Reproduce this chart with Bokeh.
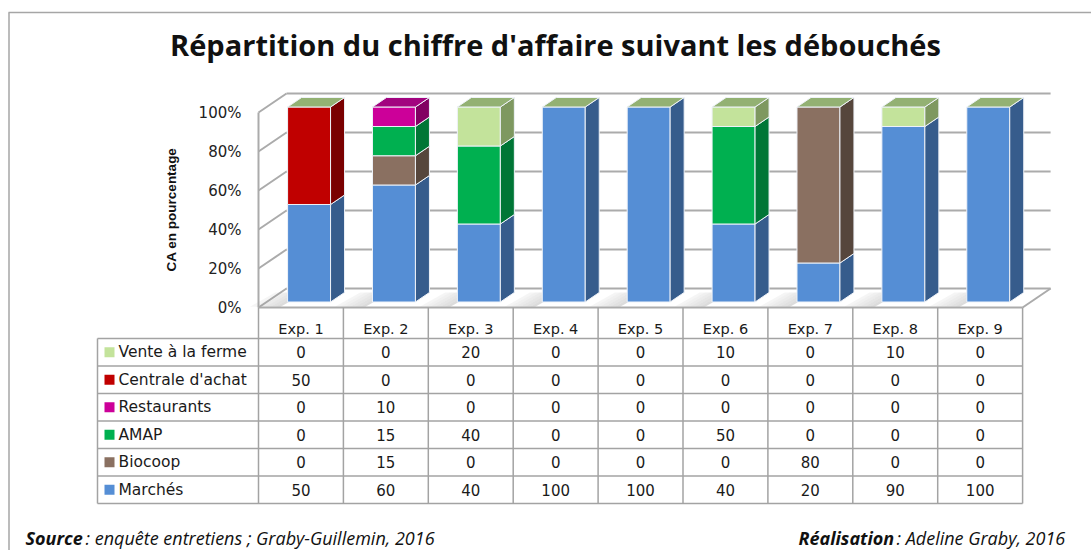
import numpy as np
from bokeh.plotting import figure
from bokeh.models import Range1d
from bokeh.core.properties import value
from bokeh.embed import file_html
from bokeh.resources import INLINE

# ---------------- data ----------------
title_text = "Répartition du chiffre d'affaire suivant les débouchés"
y_title = "CA en pourcentage"
categories = ["Exp. 1", "Exp. 2", "Exp. 3", "Exp. 4", "Exp. 5", "Exp. 6", "Exp. 7", "Exp. 8", "Exp. 9"]

# table order (top to bottom)
series_names = ["Vente à la ferme", "Centrale d'achat", "Restaurants", "AMAP", "Biocoop", "Marchés"]
vente = [0, 0, 20, 0, 0, 10, 0, 10, 0]
centrale = [50, 0, 0, 0, 0, 0, 0, 0, 0]
restaurants = [0, 10, 0, 0, 0, 0, 0, 0, 0]
amap = [0, 15, 40, 0, 0, 50, 0, 0, 0]
biocoop = [0, 15, 0, 0, 0, 0, 80, 0, 0]
marches = [50, 60, 40, 100, 100, 40, 20, 90, 100]

pct_ticks = [0, 20, 40, 60, 80, 100]
pct_labels = ["0%", "20%", "40%", "60%", "80%", "100%"]

# series whose top face is visible on each bar (as seen in the picture)
top_face_series = ["Vente à la ferme", "Restaurants", "Vente à la ferme", "Vente à la ferme",
                   "Vente à la ferme", "Vente à la ferme", "Vente à la ferme", "Vente à la ferme",
                   "Vente à la ferme"]

source_label = "Source"
source_text = " : enquête entretiens ; Graby-Guillemin, 2016"
credit_label = "Réalisation"
credit_text = " : Adeline Graby, 2016"

# ---------------- styles ----------------
values = {
    "Vente à la ferme": vente,
    "Centrale d'achat": centrale,
    "Restaurants": restaurants,
    "AMAP": amap,
    "Biocoop": biocoop,
    "Marchés": marches,
}
stack_order = ["Marchés", "Biocoop", "AMAP", "Restaurants", "Centrale d'achat", "Vente à la ferme"]
front_col = {
    "Marchés": "#558ED5", "Biocoop": "#8A7061", "AMAP": "#00B050",
    "Restaurants": "#CC0099", "Centrale d'achat": "#C00000", "Vente à la ferme": "#C3E39B",
}
side_col = {
    "Marchés": "#365C8C", "Biocoop": "#56463C", "AMAP": "#007636",
    "Restaurants": "#820062", "Centrale d'achat": "#7A0000", "Vente à la ferme": "#7E9860",
}
top_col = {
    "Marchés": "#4A7AB8", "Biocoop": "#6E5A4E", "AMAP": "#009040",
    "Restaurants": "#A2047F", "Centrale d'achat": "#9A0000", "Vente à la ferme": "#93B173",
}

# ---------------- geometry (screen px -> data units) ----------------
W, H = 1091, 550
COL_PX = 84.9      # width of one category column
X0_PX = 258        # left edge of the first category column
PCT_PX = 1.95      # pixels per percent on the front plane
Y0_PX = 307        # 0% on the front plane


def sx(px):
    return (px - X0_PX) / COL_PX


def sy(py):
    return (Y0_PX - py) / PCT_PX


DX = 28 / COL_PX
DY = 19 / PCT_PX


def proj(x, y, d):
    return x + d * DX, y + d * DY


def poly(pts):
    xs, ys = zip(*[proj(*pt) for pt in pts])
    return list(xs), list(ys)


n = len(categories)

p = figure(width=W, height=H,
           x_range=Range1d(sx(0), sx(W)),
           y_range=Range1d(sy(H), sy(0)),
           output_backend="svg", toolbar_location=None,
           x_axis_location=None, y_axis_location=None,
           min_border=0)
p.grid.visible = False
p.outline_line_color = None
p.background_fill_color = "white"
p.border_fill_color = "white"

GRID = "#ABABAB"

# outer frame
p.line([sx(8), sx(W)], [sy(12), sy(12)], line_color="#A6A6A6", line_width=1.5)
p.line([sx(8.5), sx(8.5)], [sy(12), sy(H)], line_color="#A6A6A6", line_width=1.5)

# title
p.text(x=[sx(555)], y=[sy(44)], text=[title_text], text_align="center", text_baseline="middle",
       text_font=value("Open Sans"), text_font_style="bold", text_font_size="29px", text_color="#111111")

# floor
fx, fy = poly([(0, 0, 0), (n, 0, 0), (n, 0, 1), (0, 0, 1)])
p.patch(fx, fy, fill_color="white", line_color=None)

# back wall gridlines and left wall diagonals
for t in pct_ticks:
    bx, by = poly([(0, t, 1), (n, t, 1)])
    p.line(bx, by, line_color=GRID, line_width=2)
    lx, ly = poly([(0, t, 0), (0, t, 1)])
    p.line(lx, ly, line_color=GRID, line_width=2)
vx, vy = poly([(0, 0, 0), (0, 100, 0)])
p.line(vx, vy, line_color=GRID, line_width=2)
rx, ry = poly([(n, 0, 0), (n, 0, 1)])
p.line(rx, ry, line_color=GRID, line_width=2)

# bars
D0, D1 = 0.29, 0.79
BW = 0.506
shadow_xs, shadow_ys, shadow_alpha = [], [], []
face_xs, face_ys, face_cols = [], [], []
for i in range(n):
    xl = i + 0.5 - BW / 2
    xr = i + 0.5 + BW / 2
    # soft floor shadow left of bar
    steps = 6
    for k in range(steps):
        a0 = xl - 0.36 + 0.36 * k / steps
        a1 = xl - 0.36 + 0.36 * (k + 1) / steps
        sxs, sys_ = poly([(a0, 0, 0.04), (a1, 0, 0.04), (a1 + 0.05, 0, D1), (a0 + 0.05, 0, D1)])
        shadow_xs.append(sxs)
        shadow_ys.append(sys_)
        shadow_alpha.append(0.05 + 0.30 * (k + 1) / steps)
    base = 0
    for s in stack_order:
        v = values[s][i]
        if v <= 0:
            continue
        top = base + v
        fx_, fy_ = poly([(xl, base, D0), (xr, base, D0), (xr, top, D0), (xl, top, D0)])
        face_xs.append(fx_); face_ys.append(fy_); face_cols.append(front_col[s])
        sx_, sy_ = poly([(xr, base, D0), (xr, base, D1), (xr, top, D1), (xr, top, D0)])
        face_xs.append(sx_); face_ys.append(sy_); face_cols.append(side_col[s])
        base = top
    tx_, ty_ = poly([(xl, base, D0), (xr, base, D0), (xr, base, D1), (xl, base, D1)])
    face_xs.append(tx_); face_ys.append(ty_); face_cols.append(top_col[top_face_series[i]])

p.patches(shadow_xs, shadow_ys, fill_color="#9A9A9A", fill_alpha=shadow_alpha, line_color=None)
p.patches(face_xs, face_ys, fill_color=face_cols, line_color="#EEF2F8", line_width=1)

# y tick labels
p.text(x=[sx(241)] * len(pct_ticks), y=pct_ticks, text=pct_labels, text_align="right",
       text_baseline="middle", text_font=value("DejaVu Sans"), text_font_size="15px",
       text_color="#222222")

# y axis title
p.text(x=[sx(171)], y=[sy(209)], text=[y_title], angle=np.pi / 2, text_align="center",
       text_baseline="middle", text_font=value("Liberation Sans"), text_font_style="bold",
       text_font_size="13.5px", text_color="#111111")

# ---------------- data table ----------------
TBL = "#A3A3A3"
HEAD_BOTTOM = 338
ROW_PX = 27.5
LEG_LEFT = 97
nrows = len(series_names)
row_tops = [HEAD_BOTTOM + ROW_PX * k for k in range(nrows + 1)]
row_centers = [HEAD_BOTTOM + ROW_PX * (k + 0.5) for k in range(nrows)]

# top edge (floor front) of header
p.line([0, n], [0, 0], line_color=GRID, line_width=2)
# horizontal lines
p.multi_line([[sx(LEG_LEFT), n] for _ in row_tops], [[sy(t), sy(t)] for t in row_tops],
             line_color=TBL, line_width=1.5)
# vertical lines
p.multi_line([[c, c] for c in range(n + 1)], [[0, sy(row_tops[-1])] for _ in range(n + 1)],
             line_color=TBL, line_width=1.5)
p.line([sx(LEG_LEFT), sx(LEG_LEFT)], [sy(HEAD_BOTTOM), sy(row_tops[-1])], line_color=TBL, line_width=1.5)

# header labels
p.text(x=[i + 0.5 for i in range(n)], y=[sy(328)] * n, text=categories, text_align="center",
       text_baseline="middle", text_font=value("DejaVu Sans"), text_font_size="14.5px",
       text_color="#1A1A1A")

# legend keys and names
p.scatter(x=[sx(109)] * nrows, y=[sy(c) for c in row_centers], marker="square", size=10,
          fill_color=[front_col[s] for s in series_names], line_color=None)
p.text(x=[sx(118)] * nrows, y=[sy(c) for c in row_centers], text=series_names, text_align="left",
       text_baseline="middle", text_font=value("DejaVu Sans"), text_font_size="15.5px",
       text_color="#1A1A1A")

# values
vx_, vy_, vt_ = [], [], []
for k, s in enumerate(series_names):
    for i in range(n):
        vx_.append(i + 0.5)
        vy_.append(sy(row_centers[k]))
        vt_.append(str(values[s][i]))
p.text(x=vx_, y=vy_, text=vt_, text_align="center", text_baseline="middle",
       text_font=value("DejaVu Sans"), text_font_size="15px", text_color="#1A1A1A")

# ---------------- footer ----------------
FOOT_Y = sy(549)
FOOT_FONT = value("Open Sans")
FOOT_SIZE = "18px"
p.text(x=[sx(25)], y=[FOOT_Y], text=[source_label], text_align="left", text_baseline="bottom",
       text_font=FOOT_FONT, text_font_style="bold italic", text_font_size=FOOT_SIZE, text_color="#111111")
p.text(x=[sx(85)], y=[FOOT_Y], text=[source_text], text_align="left", text_baseline="bottom",
       text_font=FOOT_FONT, text_font_style="italic", text_font_size=FOOT_SIZE, text_color="#111111")
p.text(x=[sx(798)], y=[FOOT_Y], text=[credit_label], text_align="left", text_baseline="bottom",
       text_font=FOOT_FONT, text_font_style="bold italic", text_font_size=FOOT_SIZE, text_color="#111111")
p.text(x=[sx(896)], y=[FOOT_Y], text=[credit_text], text_align="left", text_baseline="bottom",
       text_font=FOOT_FONT, text_font_style="italic", text_font_size=FOOT_SIZE, text_color="#111111")

open("out.html", "w").write(file_html(p, INLINE))
